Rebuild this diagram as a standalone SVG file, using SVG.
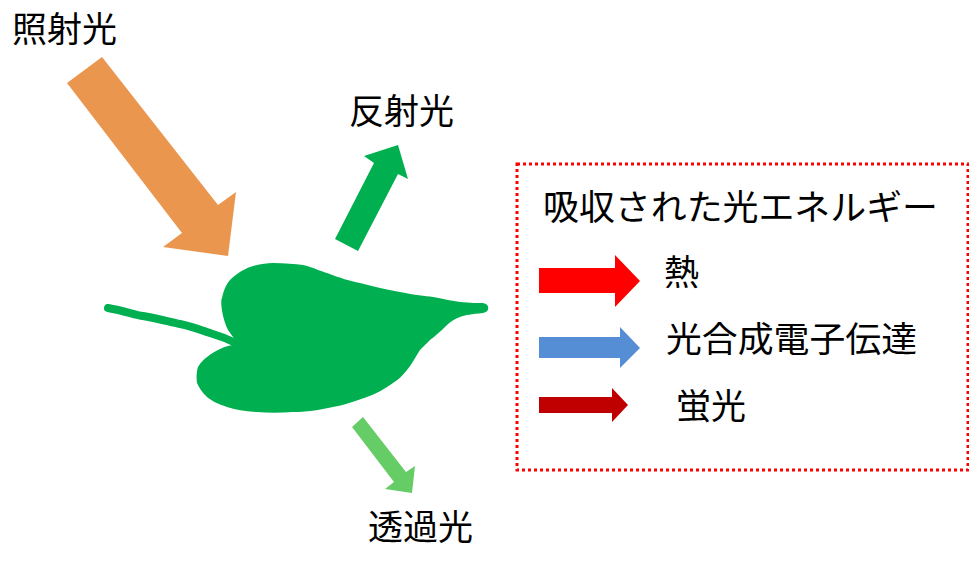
<svg xmlns="http://www.w3.org/2000/svg" width="969" height="562" viewBox="0 0 969 562">
  <style>
    .lbl { font-family: "Noto Sans CJK JP", "Noto Sans", sans-serif; font-size: 35px; fill: #000; }
    .box { fill: none; stroke: #FF0000; stroke-width: 3; stroke-dasharray: 3 3; }
  </style>
  <rect width="969" height="562" fill="#fff"/>

  <!-- leaf -->
  <g id="leaf">
    <path d="M108,308 C125,311 135,315 143,316 C160,319 170,322 180,324 C195,327 205,332 210,333 C220,336 230,340 238,344"
          fill="none" stroke="#00B050" stroke-width="8" stroke-linecap="round"/>
    <path d="M238,344 L228,330 C222,318 220,300 222,298 C224,288 228,282 230,280 C238,272 245,269 250,267 C260,264 266,263 273,263 C285,263 295,264 303,265 C315,268 320,271 327,273 C340,278 350,281 360,283 C375,287 388,290 400,292 C415,295 425,296 433,297 C445,299 452,301 460,302 C470,303 478,303 483,303 C490,304 490,312 483,313 C472,314 465,315 460,317 C453,320 450,322 447,325 C440,332 434,337 430,340 C425,345 422,348 420,350 C415,358 411,365 407,370 C402,376 398,380 393,383 C385,389 375,394 367,397 C355,401 345,405 333,407 C320,410 305,412 293,412 C280,413 268,413 257,412 C245,411 235,410 227,407 C218,404 212,401 207,397 C202,392 199,388 197,383 C196,376 197,370 198,367 C201,362 204,359 207,357 C212,353 216,351 220,349 C226,346 232,345 238,344 Z"
          fill="#00B050"/>
  </g>

  <!-- light arrows -->
  <g id="connectors">
    <polygon id="incident" points="67,83 102,57 218,205 236,192 228,256 163,247 182,233" fill="#EB964E"/>
    <polygon id="reflected" points="335,239 374,163 364,156 398,145 408,179 398,174 358,251" fill="#00B050"/>
    <polygon id="transmitted" points="352,427 363,417 406,472 415,466 412,493 385,489 394,482" fill="#66CC66"/>
  </g>

  <g id="label-incident"><text class="lbl" x="12" y="42">照射光</text></g>
  <g id="label-reflected"><text class="lbl" x="349" y="124">反射光</text></g>
  <g id="label-transmitted"><text class="lbl" x="368" y="540">透過光</text></g>

  <!-- absorbed energy legend -->
  <g id="legend">
    <rect class="box" x="517" y="164" width="451" height="306"/>
    <text class="lbl" x="543" y="220" textLength="395" lengthAdjust="spacingAndGlyphs">吸収された光エネルギー</text>
  </g>
  <g id="heat">
    <polygon points="539,268 615,268 615,255 640,281 615,307 615,293 539,293" fill="#FF0000"/>
    <text class="lbl" x="664" y="285">熱</text>
  </g>
  <g id="electron-transfer">
    <polygon points="539,337 620,337 620,327 640,348 620,368 620,358 539,358" fill="#558ED5"/>
    <text class="lbl" x="666" y="352" textLength="251" lengthAdjust="spacingAndGlyphs">光合成電子伝達</text>
  </g>
  <g id="fluorescence">
    <polygon points="539,397 612,397 612,388 628,405 612,422 612,413 539,413" fill="#C00000"/>
    <text class="lbl" x="676" y="419">蛍光</text>
  </g>
</svg>
